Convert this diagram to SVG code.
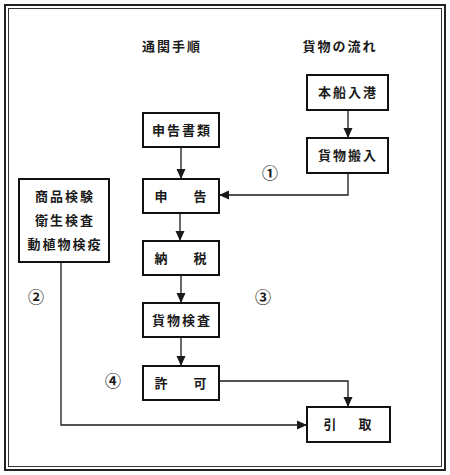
<svg xmlns="http://www.w3.org/2000/svg" width="450" height="475" viewBox="0 0 450 475">
<style>
.box{fill:#fff;stroke:#111;stroke-width:2}
.t{font-family:"Noto Sans CJK JP","Noto Sans CJK SC",sans-serif;font-size:13px;font-weight:bold;fill:#1a1a1a;text-anchor:middle;letter-spacing:2px}
.n{font-family:"Noto Sans CJK JP","DejaVu Sans",sans-serif;font-size:16px;font-weight:bold;fill:#1a1a1a;text-anchor:middle}
.ln{fill:none;stroke:#1a1a1a;stroke-width:1.3}
</style>
<defs>
<marker id="ah" markerWidth="10" markerHeight="10" refX="9" refY="5" orient="auto" markerUnits="userSpaceOnUse">
<path d="M0,0.5 L10,5 L0,9.5 Z" fill="#1a1a1a"/>
</marker>
</defs>
<rect x="0" y="0" width="450" height="475" fill="#fff"/>
<rect x="5" y="5" width="440" height="465" fill="none" stroke="#222" stroke-width="2"/>
<rect x="8.5" y="8.5" width="433" height="458" fill="none" stroke="#333" stroke-width="1"/>
<text class="t" x="172" y="51">通関手順</text>
<text class="t" x="340" y="51">貨物の流れ</text>
<g id="connectors">
<path class="ln" d="M348,110 V137" marker-end="url(#ah)"/>
<path class="ln" d="M181,147 V178" marker-end="url(#ah)"/>
<path class="ln" d="M348,173 V195 H220" marker-end="url(#ah)"/>
<path class="ln" d="M180,213 V240" marker-end="url(#ah)"/>
<path class="ln" d="M181,275 V302" marker-end="url(#ah)"/>
<path class="ln" d="M181,337 V365" marker-end="url(#ah)"/>
<path class="ln" d="M219,381 H348 V406" marker-end="url(#ah)"/>
<path class="ln" d="M61,262 V425 H306" marker-end="url(#ah)"/>
</g>
<g id="n-honsen"><rect class="box" x="307" y="75" width="81" height="35"/><text class="t" x="348" y="97">本船入港</text></g>
<g id="n-hannyu"><rect class="box" x="307" y="138" width="81" height="35"/><text class="t" x="348" y="160">貨物搬入</text></g>
<g id="n-shorui"><rect class="box" x="143" y="113" width="76" height="34"/><text class="t" x="182" y="135">申告書類</text></g>
<g id="n-shinkoku"><rect class="box" x="143" y="179" width="76" height="34"/><text class="t" x="162" y="201">申</text><text class="t" x="201" y="201">告</text></g>
<g id="n-nouzei"><rect class="box" x="143" y="241" width="76" height="34"/><text class="t" x="162" y="263">納</text><text class="t" x="201" y="263">税</text></g>
<g id="n-kensa"><rect class="box" x="143" y="303" width="76" height="34"/><text class="t" x="182" y="325">貨物検査</text></g>
<g id="n-kyoka"><rect class="box" x="143" y="366" width="76" height="34"/><text class="t" x="162" y="388">許</text><text class="t" x="201" y="388">可</text></g>
<g id="n-hikitori"><rect class="box" x="307" y="407" width="83" height="35"/><text class="t" x="331" y="429">引</text><text class="t" x="366" y="429">取</text></g>
<g id="n-kensaku"><rect class="box" x="19" y="179" width="90" height="83"/><text class="t" x="65" y="201">商品検験</text><text class="t" x="65" y="225">衛生検査</text><text class="t" x="65" y="249">動植物検疫</text></g>
<text class="n" x="270" y="179">①</text>
<text class="n" x="36" y="303">②</text>
<text class="n" x="263" y="303">③</text>
<text class="n" x="113" y="387">④</text>
</svg>
